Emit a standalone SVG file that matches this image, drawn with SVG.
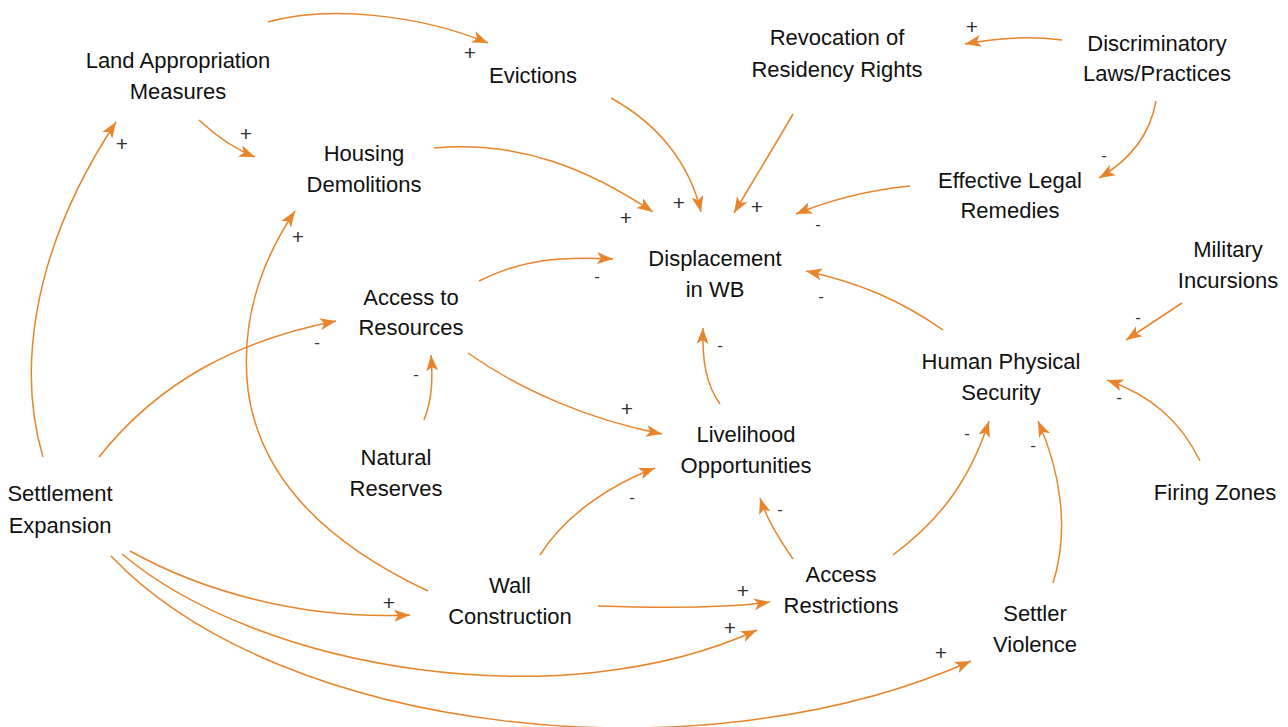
<svg xmlns="http://www.w3.org/2000/svg" width="1288" height="727" viewBox="0 0 1288 727">
<style>
.n text{font-family:"Liberation Sans",Arial,sans-serif;font-size:22px;fill:#111;text-anchor:middle}
.c path{fill:none;stroke:#E8842A;stroke-width:1.5;marker-end:url(#ah)}
.s{font-family:"Liberation Sans",Arial,sans-serif;font-size:17px;fill:#333;text-anchor:middle}
.p{font-family:"Liberation Sans",Arial,sans-serif;font-size:21px;fill:#333;text-anchor:middle}
</style>
<defs>
<marker id="ah" markerUnits="userSpaceOnUse" markerWidth="18" markerHeight="14" refX="16" refY="6" orient="auto" viewBox="0 0 18 12">
<path d="M0,0 L16,6 L0,12 L4,6 Z" fill="#E8842A"/>
</marker>
</defs>
<rect width="1288" height="727" fill="#fff"/>
<g id="connectors" class="c">
<path d="M268,22 C330,5 420,15 488,43"/>
<path d="M199,120 C215,135 232,148 255,157"/>
<path d="M43,457 C20,380 25,260 116,122"/>
<path d="M428,591 C330,545 260,480 248,390 C240,320 262,260 295,211"/>
<path d="M434,148 C520,140 590,170 653,212"/>
<path d="M611,98 C660,125 690,165 701,212"/>
<path d="M793,114 C775,145 755,178 734,213"/>
<path d="M1062,40 C1030,36 1000,37 965,44"/>
<path d="M1156,101 C1150,135 1130,160 1099,178"/>
<path d="M910,186 C870,190 830,200 796,214"/>
<path d="M943,330 C900,300 860,283 806,271"/>
<path d="M1182,303 L1126,340"/>
<path d="M1200,461 C1180,420 1150,395 1107,380"/>
<path d="M893,555 C940,520 970,480 989,421"/>
<path d="M1053,583 C1070,530 1060,470 1038,421"/>
<path d="M479,281 C520,260 560,256 613,259"/>
<path d="M99,457 C160,380 240,340 336,321"/>
<path d="M424,420 C432,400 433,380 431,355"/>
<path d="M468,353 C520,390 590,420 662,434"/>
<path d="M720,404 C706,385 702,360 703,328"/>
<path d="M540,555 C565,515 610,485 655,468"/>
<path d="M793,559 C780,540 767,520 760,498"/>
<path d="M598,606 C660,608 730,608 770,602"/>
<path d="M130,551 C200,590 300,620 410,615"/>
<path d="M122,554 C260,670 560,720 757,630"/>
<path d="M111,556 C280,734 700,782 971,661"/>
</g>
<g id="polarities">
<text class="p" x="470" y="60">+</text>
<text class="p" x="246" y="141">+</text>
<text class="p" x="122" y="151">+</text>
<text class="p" x="298" y="244">+</text>
<text class="p" x="626" y="225">+</text>
<text class="p" x="679" y="210">+</text>
<text class="p" x="757" y="214">+</text>
<text class="p" x="972" y="34">+</text>
<text class="s" x="1104" y="161">-</text>
<text class="s" x="818" y="230">-</text>
<text class="s" x="821" y="302">-</text>
<text class="s" x="1138" y="323">-</text>
<text class="s" x="1119" y="403">-</text>
<text class="s" x="967" y="439">-</text>
<text class="s" x="1033" y="451">-</text>
<text class="s" x="597" y="282">-</text>
<text class="s" x="317" y="348">-</text>
<text class="s" x="416" y="380">-</text>
<text class="p" x="627" y="416">+</text>
<text class="s" x="720" y="351">-</text>
<text class="s" x="632" y="503">-</text>
<text class="s" x="780" y="515">-</text>
<text class="p" x="743" y="598">+</text>
<text class="p" x="389" y="610">+</text>
<text class="p" x="730" y="635">+</text>
<text class="p" x="941" y="660">+</text>
</g>
<g id="land" class="n"><text x="178" y="68">Land Appropriation</text><text x="178" y="99">Measures</text></g>
<g id="evictions" class="n"><text x="533" y="83">Evictions</text></g>
<g id="revocation" class="n"><text x="837" y="45">Revocation of</text><text x="837" y="77">Residency Rights</text></g>
<g id="discriminatory" class="n"><text x="1157" y="51">Discriminatory</text><text x="1157" y="81">Laws/Practices</text></g>
<g id="housing" class="n"><text x="364" y="161">Housing</text><text x="364" y="192">Demolitions</text></g>
<g id="legal" class="n"><text x="1010" y="188">Effective Legal</text><text x="1010" y="218">Remedies</text></g>
<g id="displacement" class="n"><text x="715" y="266">Displacement</text><text x="715" y="297">in WB</text></g>
<g id="military" class="n"><text x="1228" y="257">Military</text><text x="1228" y="288">Incursions</text></g>
<g id="resources" class="n"><text x="411" y="305">Access to</text><text x="411" y="335">Resources</text></g>
<g id="security" class="n"><text x="1001" y="369">Human Physical</text><text x="1001" y="400">Security</text></g>
<g id="reserves" class="n"><text x="396" y="465">Natural</text><text x="396" y="496">Reserves</text></g>
<g id="livelihood" class="n"><text x="746" y="442">Livelihood</text><text x="746" y="473">Opportunities</text></g>
<g id="settlement" class="n"><text x="60" y="501">Settlement</text><text x="60" y="533">Expansion</text></g>
<g id="firing" class="n"><text x="1215" y="500">Firing Zones</text></g>
<g id="wall" class="n"><text x="510" y="593">Wall</text><text x="510" y="624">Construction</text></g>
<g id="restrictions" class="n"><text x="841" y="582">Access</text><text x="841" y="613">Restrictions</text></g>
<g id="violence" class="n"><text x="1035" y="621">Settler</text><text x="1035" y="652">Violence</text></g>
</svg>
